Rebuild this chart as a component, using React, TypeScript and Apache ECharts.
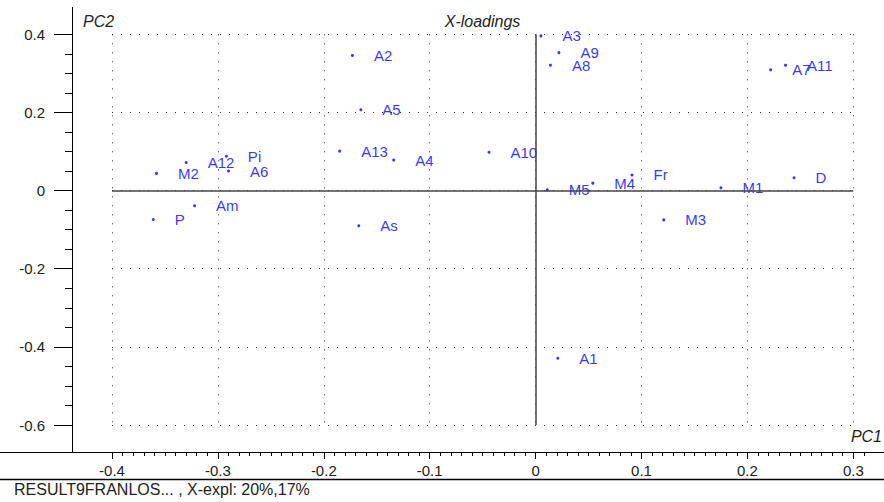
import React, { useEffect, useRef } from "react";
import * as echarts from "echarts";

// Loadings of each variable on the first two principal components
const names = [
  "M2", "P", "Am", "A12", "Pi", "A6", "A2", "A5", "A13", "A4", "A10", "A3",
  "A9", "A8", "M5", "M4", "Fr", "M1", "M3", "D", "A7", "A11", "As", "A1",
];
const pc1 = [
  -0.358, -0.361, -0.322, -0.33, -0.292, -0.29, -0.173, -0.165, -0.185, -0.134, -0.044, 0.005,
  0.022, 0.014, 0.011, 0.054, 0.091, 0.175, 0.121, 0.244, 0.222, 0.236, -0.167, 0.021,
];
const pc2 = [
  0.044, -0.074, -0.039, 0.072, 0.088, 0.05, 0.346, 0.207, 0.101, 0.078, 0.098, 0.396,
  0.353, 0.321, 0.002, 0.019, 0.04, 0.007, -0.075, 0.033, 0.309, 0.321, -0.09, -0.429,
];

// Axis ranges and tick steps
const xRange = [-0.4, 0.3];
const xMinorEnd = 0.31;
const yRange = [-0.6, 0.4];
const xStep = 0.1;
const xMinorStep = 0.01;
const yStep = 0.2;

const plotTitle = "X-loadings";
const xName = "PC1";
const yName = "PC2";
const caption = "RESULT9FRANLOS... , X-expl: 20%,17%";

const W = 884;
const H = 502;
const FONT = "Liberation Sans, Arial, sans-serif";

export default function App() {
  const ref = useRef<HTMLDivElement>(null);

  useEffect(() => {
    document.body.style.margin = "0";
    if (!ref.current) return;
    const chart = echarts.init(ref.current, null, { renderer: "svg" });

    // Plot box in pixels
    const left = 112;
    const right = 30.7;
    const top = 34.3;
    const bottom = 77;
    const pxPerX = (W - left - right) / (xRange[1] - xRange[0]);
    const minorRight = W - left - (xMinorEnd - xRange[0]) * pxPerX;
    const axisY = 452;
    const axisX = 72;

    const dotted = { show: true, lineStyle: { color: "#333", type: [1, 8], width: 1 } };

    chart.setOption({
      animation: false,
      backgroundColor: "#fff",
      grid: [
        { left, right, top, bottom },
        { left, right: minorRight, top, bottom },
      ],
      xAxis: [
        {
          type: "value",
          gridIndex: 0,
          min: xRange[0],
          max: xRange[1],
          interval: xStep,
          position: "bottom",
          offset: axisY - (H - bottom),
          axisLine: { show: true, onZero: false, lineStyle: { color: "#000", width: 1 } },
          axisTick: { show: true, length: 7, lineStyle: { color: "#000" } },
          axisLabel: { margin: 11, fontSize: 15, color: "#222", fontFamily: FONT },
          splitLine: dotted,
        },
        {
          type: "value",
          gridIndex: 1,
          min: xRange[0],
          max: xMinorEnd,
          interval: xMinorStep,
          position: "bottom",
          offset: axisY - (H - bottom),
          axisLine: { show: false, onZero: false },
          axisTick: { show: true, length: 4, lineStyle: { color: "#000" } },
          axisLabel: { show: false },
          splitLine: { show: false },
        },
      ],
      yAxis: [
        {
          type: "value",
          gridIndex: 0,
          min: yRange[0],
          max: yRange[1],
          interval: yStep,
          position: "left",
          offset: left - axisX,
          axisLine: { show: true, onZero: false, lineStyle: { color: "#000", width: 1 } },
          axisTick: { show: true, length: 18, lineStyle: { color: "#000" } },
          minorTick: { show: true, splitNumber: 4, length: 7, lineStyle: { color: "#000" } },
          axisLabel: { margin: 27, fontSize: 15, color: "#222", fontFamily: FONT },
          splitLine: dotted,
        },
        {
          type: "value",
          gridIndex: 1,
          min: yRange[0],
          max: yRange[1],
          show: false,
        },
      ],
      series: [
        {
          type: "scatter",
          xAxisIndex: 0,
          yAxisIndex: 0,
          symbol: "circle",
          symbolSize: 3,
          itemStyle: { color: "#0000ff" },
          data: names.map((n, i) => ({ name: n, value: [pc1[i], pc2[i]] })),
          label: {
            show: true,
            position: "right",
            distance: 20,
            formatter: "{b}",
            fontSize: 15,
            color: "#0000ff",
            fontFamily: FONT,
          },
          markLine: {
            silent: true,
            symbol: "none",
            label: { show: false },
            lineStyle: { color: "#444", type: "solid", width: 1.5 },
            data: [{ xAxis: 0 }, { yAxis: 0 }],
          },
          z: 3,
        },
      ],
      graphic: [
        {
          type: "line",
          shape: { x1: axisX + 0.5, y1: 7, x2: axisX + 0.5, y2: axisY },
          style: { stroke: "#000", lineWidth: 1 },
        },
        {
          type: "line",
          shape: { x1: 0, y1: axisY + 0.5, x2: W, y2: axisY + 0.5 },
          style: { stroke: "#000", lineWidth: 1 },
        },
        {
          type: "line",
          shape: { x1: 0, y1: 479.5, x2: W, y2: 479.5 },
          style: { stroke: "#000", lineWidth: 1.5 },
        },
        {
          type: "text",
          x: 83,
          y: 21,
          style: {
            text: yName,
            font: `italic 16px ${FONT}`,
            fill: "#222",
            textVerticalAlign: "middle",
          },
        },
        {
          type: "text",
          x: 482.5,
          y: 21,
          style: {
            text: plotTitle,
            font: `italic 16px ${FONT}`,
            fill: "#222",
            textAlign: "center",
            textVerticalAlign: "middle",
          },
        },
        {
          type: "text",
          x: 882,
          y: 436,
          style: {
            text: xName,
            font: `italic 16px ${FONT}`,
            fill: "#222",
            textAlign: "right",
            textVerticalAlign: "middle",
          },
        },
        {
          type: "text",
          x: 14,
          y: 489,
          style: {
            text: caption,
            font: `16px ${FONT}`,
            fill: "#222",
            textVerticalAlign: "middle",
          },
        },
      ],
    });

    return () => chart.dispose();
  }, []);

  return <div ref={ref} style={{ width: W, height: H }} />;
}
